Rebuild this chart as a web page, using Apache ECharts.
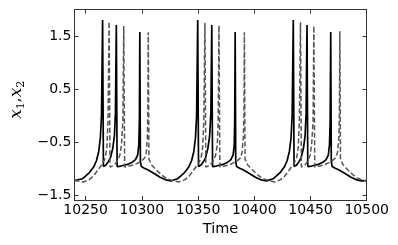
<!DOCTYPE html>
<html>
<head>
<meta charset="utf-8">
<script src="https://cdn.jsdelivr.net/npm/echarts@6/dist/echarts.min.js"></script>
<style>html,body{margin:0;padding:0;background:#fff}#c{width:398px;height:245px}</style>
</head>
<body>
<div id="c"></div>
<script>
// x tick labels and y tick labels
const xTicks = [10250, 10300, 10350, 10400, 10450, 10500];
const yTicks = [-1.5, -0.5, 0.5, 1.5];

// x1 (solid black): time and value
const solidTime = [
10240,10241.4,10247.1,10253.1,10257.1,10259.6,10261.6,10263.1,10264.1,10265.1,
10265.8,10268.1,10270.1,10272.1,10274.1,10275.6,10276.5,10277.3,
10278.0,10281.3,10287.3,10291.3,10294.3,10296.3,10297.3,10297.8,10298.2,
10298.7,10299.5,10302.2,10305.2,10310.2,10316.2,10321.2,
10326.0,10331.7,10337.7,10341.7,10344.2,10346.2,10347.7,10348.7,10349.7,
10350.4,10352.7,10354.7,10356.7,10358.7,10360.3,10361.4,10362.2,
10362.9,10366.2,10372.2,10376.2,10379.2,10381.2,10382.2,10382.6,10383.0,
10383.5,10384.3,10387.0,10390.0,10395.0,10401.0,10406.0,
10411.0,10416.7,10422.7,10426.7,10429.2,10431.2,10432.7,10433.7,10434.7,
10435.4,10437.7,10439.7,10441.7,10443.7,10445.2,10446.1,10446.9,
10447.6,10450.9,10456.9,10460.9,10463.9,10465.9,10466.9,10467.5,10468.0,
10468.5,10469.3,10472.0,10475.0,10480.0,10486.0,10491.0,10495.5,10500
];
const solidX1 = [
-1.225,-1.23,-1.19,-1.08,-0.97,-0.85,-0.68,-0.42,0.0,1.80,
-0.96,-0.93,-0.87,-0.79,-0.62,-0.38,0.05,1.71,
-0.96,-0.95,-0.92,-0.88,-0.83,-0.74,-0.55,-0.1,1.575,
-0.86,-0.96,-0.99,-1.02,-1.08,-1.16,-1.21,
-1.23,-1.19,-1.08,-0.97,-0.85,-0.68,-0.42,0.0,1.80,
-0.96,-0.93,-0.87,-0.79,-0.62,-0.38,0.05,1.71,
-0.96,-0.95,-0.92,-0.88,-0.83,-0.74,-0.55,-0.1,1.575,
-0.86,-0.96,-0.99,-1.02,-1.08,-1.16,-1.21,
-1.23,-1.19,-1.08,-0.97,-0.85,-0.68,-0.42,0.0,1.80,
-0.96,-0.93,-0.87,-0.79,-0.62,-0.38,0.05,1.71,
-0.96,-0.95,-0.92,-0.88,-0.83,-0.74,-0.55,-0.1,1.575,
-0.86,-0.96,-0.99,-1.02,-1.08,-1.16,-1.21,-1.23,-1.225
];

// x2 (dashed grey): time and value
const dashedTime = [
10240,10247.9,10252.9,10256.9,10261.4,10264.9,10267.4,10268.9,10269.9,10270.9,
10271.7,10274.9,10277.9,10280.4,10281.9,10283.1,10283.9,
10284.7,10288.9,10293.9,10298.9,10302.4,10303.9,10304.9,10305.3,10305.7,
10306.3,10308.7,10312.7,10317.7,10321.7,10326.7,
10333.1,10338.1,10342.1,10346.6,10350.1,10352.6,10354.1,10355.1,10356.1,
10356.9,10360.1,10363.1,10365.6,10367.1,10367.9,10368.6,
10369.4,10373.6,10378.6,10383.6,10387.6,10389.1,10390.3,10390.8,10391.2,
10391.8,10394.2,10398.2,10403.2,10407.2,10412.2,
10418.1,10423.1,10427.1,10431.6,10435.1,10437.6,10439.1,10440.1,10441.1,
10441.9,10444.6,10447.3,10449.6,10451.0,10452.3,10453.0,
10453.8,10458.0,10463.0,10468.0,10472.0,10474.0,10475.3,10475.7,10476.1,
10476.7,10479.1,10483.1,10488.1,10492.1,10497.1,10500
];
const dashedX2 = [
-1.22,-1.25,-1.21,-1.14,-1.01,-0.91,-0.80,-0.6,-0.1,1.77,
-0.97,-0.94,-0.87,-0.75,-0.55,-0.1,1.69,
-0.97,-0.95,-0.92,-0.87,-0.80,-0.70,-0.40,0.0,1.57,
-0.82,-0.93,-1.02,-1.12,-1.18,-1.22,
-1.25,-1.21,-1.14,-1.01,-0.91,-0.80,-0.6,-0.1,1.75,
-0.97,-0.94,-0.87,-0.75,-0.55,-0.1,1.70,
-0.97,-0.95,-0.92,-0.87,-0.80,-0.70,-0.40,0.0,1.57,
-0.82,-0.93,-1.02,-1.12,-1.18,-1.22,
-1.25,-1.21,-1.14,-1.01,-0.91,-0.80,-0.6,-0.1,1.76,
-0.97,-0.94,-0.87,-0.75,-0.55,-0.1,1.69,
-0.97,-0.95,-0.92,-0.87,-0.80,-0.70,-0.40,0.0,1.59,
-0.82,-0.93,-1.02,-1.12,-1.18,-1.22,-1.23
];

const solidData = solidTime.map((t, i) => [t, solidX1[i]]);
const dashedData = dashedTime.map((t, i) => [t, dashedX2[i]]);

const FONT = 'DejaVu Sans';
const frame = { show: true, onZero: false, lineStyle: { color: '#333', width: 1 } };
const tick = (vals) => ({ show: true, inside: true, length: 4, customValues: vals, lineStyle: { color: '#333', width: 1 } });
const fmtY = v => (v < 0 ? '\u2212' + Math.abs(v).toFixed(1) : v.toFixed(1));

const chart = echarts.init(document.getElementById('c'), null, { renderer: 'canvas' });
chart.setOption({
  animation: false,
  backgroundColor: '#fff',
  grid: { left: 68, right: 31.3, top: 9.5, bottom: 45, containLabel: false },
  xAxis: [{
    type: 'value', min: 10240, max: 10500, position: 'bottom',
    axisLine: frame, axisTick: tick(xTicks), splitLine: { show: false },
    axisLabel: { customValues: xTicks, formatter: v => String(v), margin: 3, color: '#000', fontSize: 14, fontFamily: FONT },
    name: 'Time', nameLocation: 'middle', nameGap: 20,
    nameTextStyle: { color: '#000', fontSize: 14.5, fontFamily: FONT }
  }, {
    type: 'value', min: 10240, max: 10500, position: 'top',
    axisLine: frame, axisTick: tick(xTicks), splitLine: { show: false },
    axisLabel: { show: false }
  }],
  yAxis: [{
    type: 'value', min: -1.59, max: 2.0, position: 'left',
    axisLine: frame, axisTick: tick(yTicks), splitLine: { show: false },
    axisLabel: { customValues: yTicks, formatter: fmtY, margin: 3, color: '#000', fontSize: 14, fontFamily: FONT },
    name: '{v|x}{s|1}{c|,}{v|x}{s|2}', nameLocation: 'middle', nameGap: 24, nameRotate: 90,
    nameTextStyle: {
      color: '#000', padding: [0, 0, 0, 10],
      rich: {
        v: { fontFamily: 'DejaVu Serif', fontStyle: 'italic', fontSize: 17, color: '#000' },
        c: { fontFamily: 'DejaVu Serif', fontSize: 15, color: '#000' },
        s: { fontFamily: 'DejaVu Serif', fontSize: 11, color: '#000', padding: [9, 0, 0, 0] }
      }
    }
  }, {
    type: 'value', min: -1.59, max: 2.0, position: 'right',
    axisLine: frame, axisTick: tick(yTicks), splitLine: { show: false },
    axisLabel: { show: false }
  }],
  series: [{
    type: 'line', xAxisIndex: 0, yAxisIndex: 0, data: solidData,
    showSymbol: false, symbol: 'none', clip: true,
    lineStyle: { color: '#000', width: 1.7 }
  }, {
    type: 'line', xAxisIndex: 0, yAxisIndex: 0, data: dashedData,
    showSymbol: false, symbol: 'none', clip: true,
    lineStyle: { color: '#555', width: 1.5, type: [5, 2.5] }
  }]
});
</script>
</body>
</html>
